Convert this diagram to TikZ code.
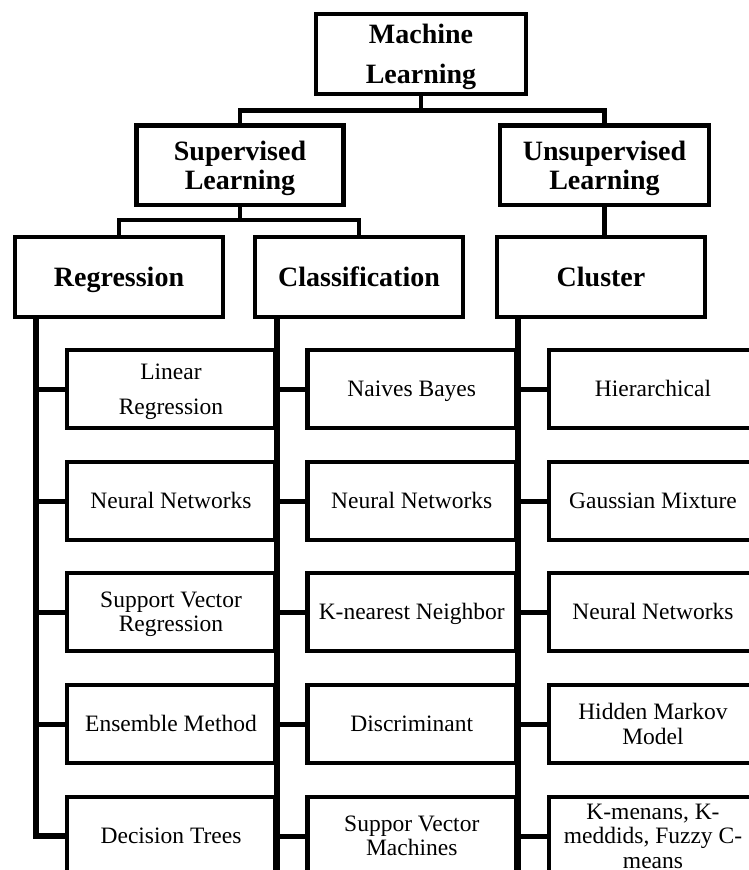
\documentclass[tikz,border=0pt]{standalone}
\usepackage{fontspec}
\setmainfont{Liberation Serif}
\newcommand\lftop{\rule{0pt}{21.5pt}}
\newcommand\lfbot{\rule[-6pt]{0pt}{0pt}}
\newcommand\hdtop{\rule{0pt}{25.5pt}}
\newcommand\hdbot{\rule[-7pt]{0pt}{0pt}}
\begin{document}
\begin{tikzpicture}[x=1pt,y=-1pt,
  hdr/.style={draw, line width=4.5pt, inner sep=0pt, align=center,
    font=\fontsize{28}{29}\selectfont\bfseries},
  leaf/.style={draw, line width=4.5pt, inner sep=0pt, align=center,
    minimum width=208.5pt, minimum height=78pt,
    font=\fontsize{23.5}{24}\selectfont},
  conn/.style={line width=4.5pt},
  trunk/.style={line width=6pt},
  stub/.style={line width=5pt}]
\useasboundingbox (0,0) rectangle (749,870);
\clip (0,0) rectangle (749,870);

% top levels
\node[hdr, minimum width=210pt, minimum height=80pt] (ml) at (421,54) {\hdtop Machine\\[11pt]Learning\hdbot};
\node[hdr, minimum width=207pt, minimum height=79.5pt] (sup) at (240,165.3) {\hdtop Supervised\\Learning\hdbot};
\node[hdr, minimum width=209pt, minimum height=79.5pt] (uns) at (604.5,165.3) {\hdtop Unsupervised\\Learning\hdbot};
\node[hdr, minimum width=208pt, minimum height=80pt] (reg) at (119,277) {\hdtop Regression\hdbot};
\node[hdr, minimum width=208pt, minimum height=80pt] (cla) at (359,277) {\hdtop Classification\hdbot};
\node[hdr, minimum width=208pt, minimum height=80pt] (clu) at (601,277) {\hdtop Cluster\hdbot};

\coordinate (j1) at (421,110.5);
\coordinate (j2) at (240,220);
\draw[conn] (ml.south) -- (j1);
\draw[conn] (sup.north) |- (j1) -| (uns.north);
\draw[conn] (sup.south) -- (j2);
\draw[conn] (reg.north) |- (j2) -| (cla.north);
\draw[conn] (uns.south) -- (uns.south |- clu.north);

% regression leaves
\node[leaf] (r1) at (171,389) {\lftop Linear\\[10.5pt]Regression\lfbot};
\node[leaf] (r2) at (171,501) {\lftop Neural Networks\lfbot};
\node[leaf] (r3) at (171,612) {\lftop Support Vector\\Regression\lfbot};
\node[leaf] (r4) at (171,724) {\lftop Ensemble Method\lfbot};
\node[leaf] (r5) at (171,836) {\lftop Decision Trees\lfbot};

% classification leaves
\node[leaf] (c1) at (411.75,389) {\lftop Naives Bayes\lfbot};
\node[leaf] (c2) at (411.75,501) {\lftop Neural Networks\lfbot};
\node[leaf] (c3) at (411.75,612) {\lftop K-nearest Neighbor\lfbot};
\node[leaf] (c4) at (411.75,724) {\lftop Discriminant\lfbot};
\node[leaf] (c5) at (411.75,836) {\lftop Suppor Vector\\Machines\lfbot};

% cluster leaves
\node[leaf] (k1) at (653,389) {\lftop Hierarchical\lfbot};
\node[leaf] (k2) at (653,501) {\lftop Gaussian Mixture\lfbot};
\node[leaf] (k3) at (653,612) {\lftop Neural Networks\lfbot};
\node[leaf] (k4) at (653,724) {\lftop Hidden Markov\\[1pt]Model\lfbot};
\node[leaf] (k5) at (653,836) {\lftop K-menans, K-\\[0.5pt]meddids, Fuzzy C-\\[0.5pt]means\lfbot};

% trunks
\coordinate (rtop) at (36,317);
\coordinate (ctop) at (277,317);
\coordinate (cbot) at (277,880);
\coordinate (ktop) at (518,317);
\coordinate (kbot) at (518,880);
\draw[trunk] (rtop) |- (r5.west);
\draw[trunk] (ctop) -- (cbot);
\draw[trunk] (ktop) -- (kbot);

% stubs
\foreach \n in {r1,r2,r3,r4}{\draw[stub] (\n.west) -- (rtop |- \n.west);}
\foreach \n in {c1,c2,c3,c4,c5}{\draw[stub] (\n.west) -- (ctop |- \n.west);}
\foreach \n in {k1,k2,k3,k4,k5}{\draw[stub] (\n.west) -- (ktop |- \n.west);}
\end{tikzpicture}
\end{document}
